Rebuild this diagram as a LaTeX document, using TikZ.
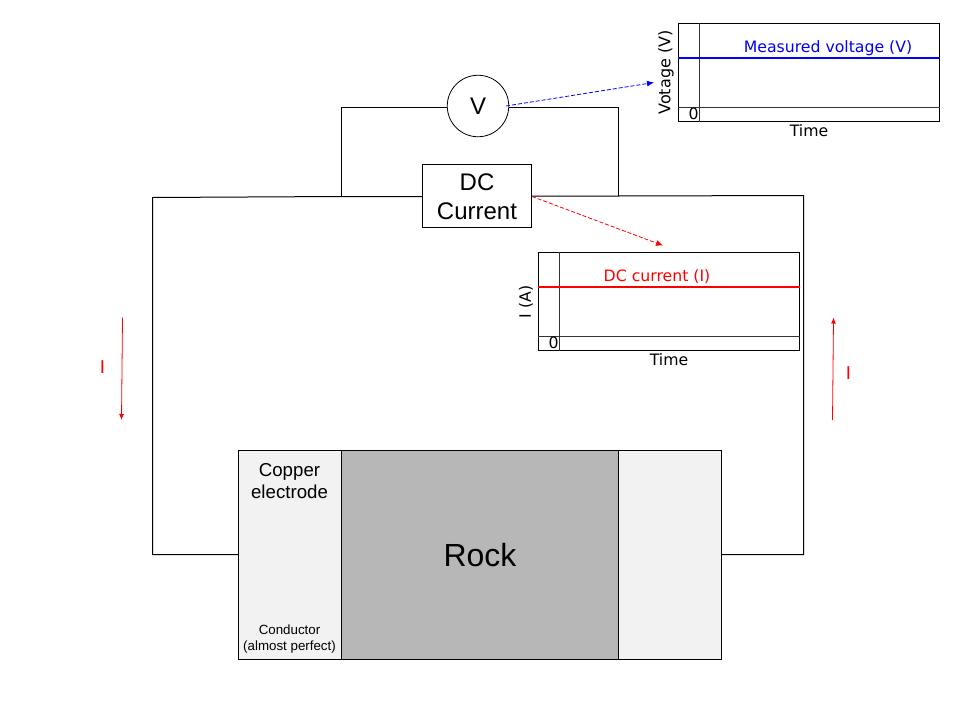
\documentclass[tikz,border=0pt]{standalone}
\usepackage{fontspec}
\setmainfont{Liberation Sans}
\newfontfamily\plotfont{DejaVu Sans}
\usetikzlibrary{arrows.meta}
\definecolor{elec}{HTML}{F2F2F2}
\definecolor{rockc}{HTML}{B7B7B7}
\definecolor{axisc}{HTML}{333333}
\definecolor{sigblue}{RGB}{0,0,255}
\definecolor{sigred}{RGB}{255,0,0}
\tikzset{
  wire/.style={draw=black,line width=1pt},
  axisline/.style={draw=axisc,line width=1pt},
  plotbox/.style={draw=black,line width=1pt,fill=white,minimum width=261pt,minimum height=98pt,inner sep=0pt,anchor=north west},
  plottext/.style={font=\plotfont\fontsize{15.7}{18}\selectfont,inner sep=0pt,text=black},
  block/.style={draw=black,line width=0.9pt,inner sep=0pt,anchor=north west},
  flow/.style={draw=red,line width=0.8pt,-{Latex[length=6pt,width=5pt]}},
  probe/.style={dash pattern=on 4pt off 2pt,line width=0.8pt,-{Latex[length=7pt,width=6pt]}},
  lbl/.style={inner sep=0pt,align=center}
}
\begin{document}
\begin{tikzpicture}[x=1pt,y=-1pt]
\useasboundingbox (0,0) rectangle (960,720);
\fill[white] (0,0) rectangle (960,720);
% coordinates of the circuit
\coordinate (tl) at (341.5,107);
\coordinate (tr) at (618,107);
\coordinate (bl) at (341.5,196.5);
\coordinate (br) at (618,196);
\coordinate (ol) at (152.5,197.5);
\coordinate (or) at (803.5,195.5);
\coordinate (ll) at (152.5,554.5);
\coordinate (lr) at (803.5,554.5);
% blocks
\node[block,fill=elec,minimum width=103pt,minimum height=209pt] (copperL) at (238,450) {};
\node[block,fill=elec,minimum width=103pt,minimum height=209pt] (copperR) at (618,450) {};
\node[block,fill=rockc,minimum width=277pt,minimum height=209pt] (rock) at (341,450) {};
\node[lbl,font=\fontsize{32}{36}\selectfont] (rocklabel) at (480,555.5) {Rock};
\node[lbl,font=\fontsize{18.67}{22}\selectfont] (copperlabel) at (289.5,481) {Copper\\electrode};
\node[lbl,font=\fontsize{13.33}{16.5}\selectfont] (condlabel) at (289.5,639) {Conductor\\(almost perfect)};
\node[block,fill=white,minimum width=109pt,minimum height=63pt] (dc) at (422,164) {};
\node[lbl,font=\fontsize{24}{29}\selectfont] (dclabel) at (477,197) {DC\\Current};
\node[draw=black,line width=0.8pt,circle,minimum size=61.5pt,inner sep=0pt,font=\fontsize{24}{28}\selectfont,fill=white] (vm) at (478,106) {V};
% wires
\draw[wire] (vm.west |- tl) -- (tl) -- (bl);
\draw[wire] (vm.east |- tr) -- (tr) -- (br);
\draw[wire] (dc.west |- bl) -- (bl) -- (ol) -- (ll) -- (copperL.west |- ll);
\draw[wire] (dc.east |- br) -- (br) -- (or) -- (lr) -- (copperR.east |- lr);
% current arrows
\coordinate (a1) at (122.5,317.5);
\coordinate (a2) at (121.5,420);
\coordinate (a3) at (832.5,420);
\coordinate (a4) at (833.5,317.5);
\draw[flow] (a1) -- (a2);
\draw[flow] (a3) -- (a4);
\node[lbl,text=red,font=\fontsize{18.67}{22}\selectfont] (i1) at (102.5,367) {I};
\node[lbl,text=red,font=\fontsize{18.67}{22}\selectfont] (i2) at (848.5,373) {I};
% voltage plot
\node[plotbox] (pv) at (678,23) {};
\coordinate (pvx) at (699.5,23);
\coordinate (pvy) at (678,107.5);
\coordinate (pvs) at (678,58.2);
\draw[axisline] (pvx) -- (pvx |- pv.south);
\draw[axisline] (pvy) -- (pvy -| pv.east);
\draw[line width=2pt,color=sigblue] (pvs) -- (pvs -| pv.east);
\node[plottext,text=blue] (pvl) at (828,48) {Measured voltage (V)};
\node[plottext] (pv0) at (693.5,114) {0};
\node[plottext] (pvt) at (809,131) {Time};
\node[plottext,rotate=90,font=\plotfont\fontsize{16}{18}\selectfont] (pvo) at (666,72.5) {Votage (V)};
% current plot
\node[plotbox] (pcur) at (538,252) {};
\coordinate (pcx) at (559.5,252);
\coordinate (pcy) at (538,336.5);
\coordinate (pcs) at (538,287.2);
\draw[axisline] (pcx) -- (pcx |- pcur.south);
\draw[axisline] (pcy) -- (pcy -| pcur.east);
\draw[line width=2pt,color=sigred] (pcs) -- (pcs -| pcur.east);
\node[plottext,text=red] (pcl) at (657,277) {DC current (I)};
\node[plottext] (pc0) at (553.5,343) {0};
\node[plottext] (pct) at (669,360) {Time};
\node[plottext,rotate=90] (pco) at (526,302) {I (A)};
% probes
\coordinate (pa) at (506,106);
\coordinate (pb) at (654,82.5);
\coordinate (pc) at (532,196.5);
\coordinate (pd) at (663,245.5);
\draw[probe,draw=blue] (pa) -- (pb);
\draw[probe,draw=red] (pc) -- (pd);
\end{tikzpicture}
\end{document}
